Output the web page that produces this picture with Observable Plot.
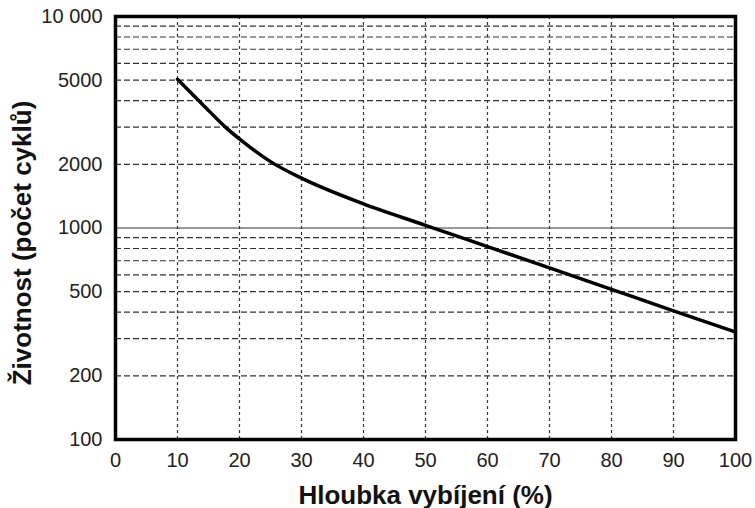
<!DOCTYPE html>
<html>
<head>
<meta charset="utf-8">
<script src="https://cdn.jsdelivr.net/npm/d3@7"></script>
<script src="https://cdn.jsdelivr.net/npm/@observablehq/plot@0.6"></script>
<style>
  html, body { margin: 0; padding: 0; background: #fff; }
  #chart svg { display: block; }
</style>
</head>
<body>
<div id="chart"></div>
<script>
// Data
const depth = [10, 14, 18, 21, 25, 30, 40, 50, 60, 70, 80, 90, 100];
const cycles = [5050, 3850, 2950, 2500, 2060, 1720, 1300, 1030, 817, 648, 513, 406, 322];

const xTicks = [0, 10, 20, 30, 40, 50, 60, 70, 80, 90, 100];
const xGrid = [10, 20, 30, 40, 50, 60, 70, 80, 90];
const yTicks = [100, 200, 500, 1000, 2000, 5000, 10000];
const yTickLabels = ["100", "200", "500", "1000", "2000", "5000", "10 000"];
const yGridDashed = [200, 300, 400, 500, 600, 700, 800, 900, 2000, 3000, 4000, 5000, 6000, 7000, 8000, 9000];
const yGridSolid = [1000];

const xTitle = "Hloubka vybíjení (%)";
const yTitle = "Životnost (počet cyklů)";

const data = depth.map((d, i) => ({x: d, y: cycles[i]}));

const chart = Plot.plot({
  width: 755,
  height: 508,
  marginLeft: 115,
  marginRight: 20,
  marginTop: 16,
  marginBottom: 69,
  style: {fontFamily: "'Liberation Sans', Arial, sans-serif", fontSize: "20px", color: "#222", background: "#fff"},
  x: {domain: [0, 100], ticks: xTicks, label: null, tickSize: 0, tickPadding: 13},
  y: {type: "log", domain: [100, 10000], ticks: yTicks, label: null, tickSize: 0, tickPadding: 13,
      tickFormat: d => yTickLabels[yTicks.indexOf(d)]},
  marks: [
    Plot.ruleX(xGrid, {stroke: "#333", strokeWidth: 1.2, strokeDasharray: "3,3"}),
    Plot.ruleY(yGridDashed, {stroke: "#333", strokeWidth: 1.2, strokeDasharray: "6,3"}),
    Plot.ruleY(yGridSolid, {stroke: "#333", strokeWidth: 1}),
    Plot.line(data, {x: "x", y: "y", stroke: "#000", strokeWidth: 3.5, curve: "monotone-x"}),
    Plot.frame({stroke: "#000", strokeWidth: 3.5}),
    Plot.text([xTitle], {ariaLabel: "x-title", frameAnchor: "bottom", text: d => d, dy: 64, textAnchor: "middle",
      fontWeight: "bold", fontSize: 26, lineAnchor: "bottom", fill: "#111"}),
    Plot.text([yTitle], {ariaLabel: "y-title", frameAnchor: "left", text: d => d, dx: -85, dy: 15, rotate: -90, textAnchor: "middle",
      fontWeight: "bold", fontSize: 26, lineAnchor: "bottom", fill: "#111"})
  ]
});
d3.select(chart).selectAll("g[aria-label='x-title'] text, g[aria-label='y-title'] text").attr("letter-spacing", "0.5px");
document.getElementById("chart").appendChild(chart);
</script>
</body>
</html>
